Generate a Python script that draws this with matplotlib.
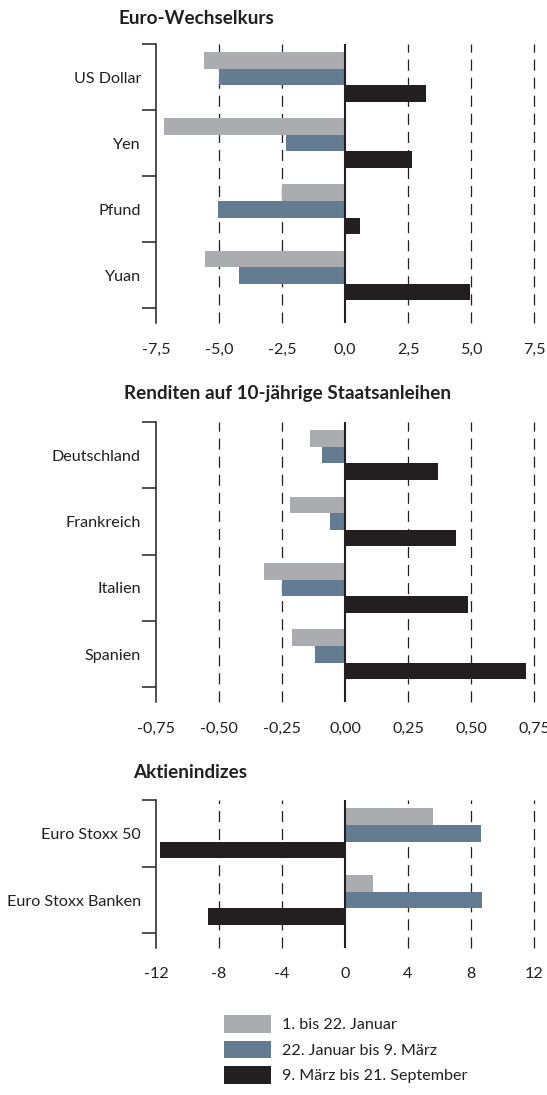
import matplotlib
matplotlib.use("Agg")
import matplotlib.pyplot as plt
from matplotlib.patches import Patch
from matplotlib.ticker import FixedLocator, FixedFormatter
import numpy as np

# Euro-Wechselkurs
wechsel_cats = ["US Dollar", "Yen", "Pfund", "Yuan"]
wechsel_jan = [-5.6, -7.2, -2.5, -5.55]
wechsel_maerz = [-5.0, -2.35, -5.05, -4.2]
wechsel_sept = [3.2, 2.65, 0.6, 4.95]
wechsel_ticks = [-7.5, -5.0, -2.5, 0.0, 2.5, 5.0, 7.5]
wechsel_ticklabels = ["-7,5", "-5,0", "-2,5", "0,0", "2,5", "5,0", "7,5"]

# Renditen auf 10-jaehrige Staatsanleihen
renditen_cats = ["Deutschland", "Frankreich", "Italien", "Spanien"]
renditen_jan = [-0.14, -0.22, -0.32, -0.21]
renditen_maerz = [-0.09, -0.06, -0.25, -0.12]
renditen_sept = [0.37, 0.44, 0.49, 0.72]
renditen_ticks = [-0.75, -0.5, -0.25, 0.0, 0.25, 0.5, 0.75]
renditen_ticklabels = ["-0,75", "-0,50", "-0,25", "0,00", "0,25", "0,50", "0,75"]

# Aktienindizes
aktien_cats = ["Euro Stoxx 50", "Euro Stoxx Banken"]
aktien_jan = [5.6, 1.75]
aktien_maerz = [8.65, 8.7]
aktien_sept = [-11.75, -8.7]
aktien_ticks = [-12, -8, -4, 0, 4, 8, 12]
aktien_ticklabels = ["-12", "-8", "-4", "0", "4", "8", "12"]

series_labels = ["1. bis 22. Januar", "22. Januar bis 9. März", "9. März bis 21. September"]
colors = ["#abacb0", "#647c91", "#231f20"]
ink = "#231f20"

plt.rcParams["font.family"] = ["Lato", "DejaVu Sans"]
plt.rcParams["font.size"] = 11.6
plt.rcParams["lines.scale_dashes"] = False

W, H = 547, 1095
fig = plt.figure(figsize=(W / 100, H / 100), dpi=100)


def panel(rect, cats, s1, s2, s3, ticks, ticklabels):
    ax = fig.add_axes(rect)
    y = np.arange(len(cats))
    h = 0.25
    for k, vals in enumerate([s1, s2, s3]):
        ax.barh(y + (k - 1) * h, vals, height=h, color=colors[k], zorder=2)
    for t in ticks[1:]:
        if t == 0:
            ax.axvline(t, color=ink, lw=1.5, zorder=3)
        else:
            ax.axvline(t, color=ink, lw=0.9, linestyle=(0, (8, 5)), zorder=1, clip_on=False)
    ax.set_xlim(ticks[0], ticks[-1])
    ax.set_ylim(len(cats) - 0.28, -0.5)
    for side in ["top", "right", "bottom"]:
        ax.spines[side].set_visible(False)
    ax.spines["left"].set_linewidth(1.1)
    ax.spines["left"].set_color(ink)
    ax.xaxis.set_major_locator(FixedLocator(ticks))
    ax.xaxis.set_major_formatter(FixedFormatter(ticklabels))
    ax.tick_params(axis="x", length=0, pad=14, labelcolor=ink)
    ax.set_yticks(y)
    ax.set_yticklabels(cats)
    ax.set_yticks(np.arange(len(cats) + 1) - 0.5, minor=True)
    ax.tick_params(axis="y", which="major", length=0, pad=10.8, labelcolor=ink)
    ax.tick_params(axis="y", which="minor", length=10, width=1.1, color=ink)
    return ax


left = 156 / W
width = (534 - 156) / W
panel([left, 1 - 323 / H, width, (323 - 44) / H],
      wechsel_cats, wechsel_jan, wechsel_maerz, wechsel_sept,
      wechsel_ticks, wechsel_ticklabels)
panel([left, 1 - 702 / H, width, (702 - 422) / H],
      renditen_cats, renditen_jan, renditen_maerz, renditen_sept,
      renditen_ticks, renditen_ticklabels)
panel([left, 1 - 948 / H, width, (948 - 800) / H],
      aktien_cats, aktien_jan, aktien_maerz, aktien_sept,
      aktien_ticks, aktien_ticklabels)

title_size = 13.6
fig.text(118 / W, 1 - 19 / H, "Euro-Wechselkurs", fontweight="bold", fontsize=title_size,
         va="center", color=ink)
fig.text(124 / W, 1 - 393 / H, "Renditen auf 10-jährige Staatsanleihen", fontweight="bold",
         fontsize=title_size, va="center", color=ink)
fig.text(133 / W, 1 - 773 / H, "Aktienindizes", fontweight="bold", fontsize=title_size,
         va="center", color=ink)

handles = [Patch(facecolor=c, edgecolor="none") for c in colors]
fs = 11.6 * 100 / 72
fig.legend(handles, series_labels, loc="upper left",
           bbox_to_anchor=(224 / W, 1 - 1015 / H), frameon=False, borderpad=0,
           borderaxespad=0, handlelength=47 / fs, handleheight=21 / fs,
           handletextpad=11 / fs, labelspacing=8 / fs, labelcolor=ink)

fig.savefig("out.png", dpi=100)
